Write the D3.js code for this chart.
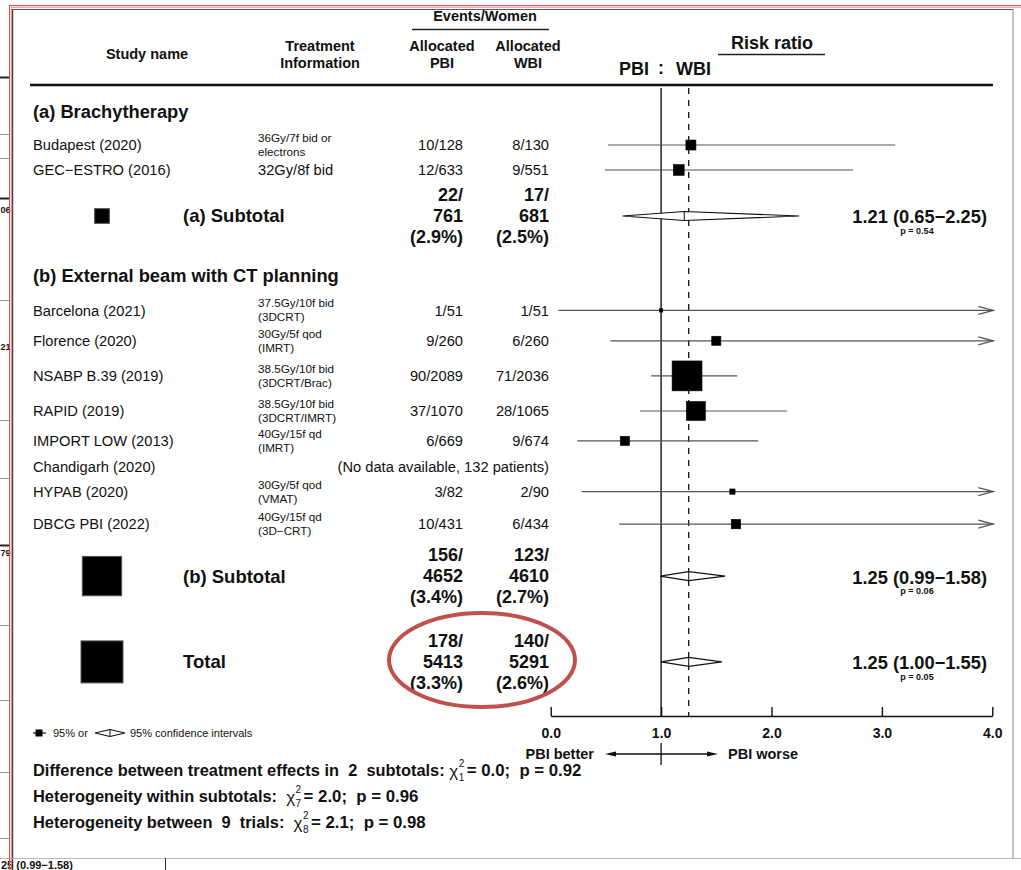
<!DOCTYPE html>
<html>
<head>
<meta charset="utf-8">
<script src="https://cdn.jsdelivr.net/npm/d3@7"></script>
<style>
  body { margin: 0; background: #fff; }
  svg { display: block; }
  text { font-family: "Liberation Sans", Arial, Helvetica, sans-serif; fill: #111; white-space: pre; }
</style>
</head>
<body>
<svg id="chart" width="1021" height="870"></svg>
<script>
// ---- Trial-level data ----
const studies = ["Budapest (2020)", "GEC\u2212ESTRO (2016)", "Barcelona (2021)", "Florence (2020)",
  "NSABP B.39 (2019)", "RAPID (2019)", "IMPORT LOW (2013)", "Chandigarh (2020)", "HYPAB (2020)", "DBCG PBI (2022)"];
const studyGroup = ["a", "a", "b", "b", "b", "b", "b", "b", "b", "b"];
const treatment = [["36Gy/7f bid or", "electrons"], ["32Gy/8f bid"], ["37.5Gy/10f bid", "(3DCRT)"],
  ["30Gy/5f qod", "(IMRT)"], ["38.5Gy/10f bid", "(3DCRT/Brac)"], ["38.5Gy/10f bid", "(3DCRT/IMRT)"],
  ["40Gy/15f qd", "(IMRT)"], [], ["30Gy/5f qod", "(VMAT)"], ["40Gy/15f qd", "(3D\u2212CRT)"]];
const pbiEvents = [10, 12, 1, 9, 90, 37, 6, null, 3, 10];
const pbiWomen = [128, 633, 51, 260, 2089, 1070, 669, null, 82, 431];
const wbiEvents = [8, 9, 1, 6, 71, 28, 9, null, 2, 6];
const wbiWomen = [130, 551, 51, 260, 2036, 1065, 674, null, 90, 434];
const riskRatio = [1.27, 1.16, 1.00, 1.50, 1.235, 1.315, 0.672, null, 1.646, 1.678];
const ciLow = [0.52, 0.49, 0.07, 0.54, 0.91, 0.81, 0.24, null, 0.28, 0.62];
const ciHigh = [3.12, 2.74, 15.4, 4.15, 1.69, 2.14, 1.88, null, 9.6, 4.58];
const noDataNote = "(No data available, 132 patients)";

// ---- Subtotals and total ----
const groupTitles = ["(a) Brachytherapy", "(b) External beam with CT planning"];
const summaryLabels = ["(a) Subtotal", "(b) Subtotal", "Total"];
const sumPbiEvents = [22, 156, 178];
const sumPbiWomen = [761, 4652, 5413];
const sumPbiPct = ["2.9%", "3.4%", "3.3%"];
const sumWbiEvents = [17, 123, 140];
const sumWbiWomen = [681, 4610, 5291];
const sumWbiPct = ["2.5%", "2.7%", "2.6%"];
const sumRR = [1.21, 1.25, 1.25];
const sumLow = [0.65, 0.99, 1.00];
const sumHigh = [2.25, 1.58, 1.55];
const sumP = ["0.54", "0.06", "0.05"];

// ---- Heterogeneity statistics ----
const statLabels = ["Difference between treatment effects in  2  subtotals: ",
  "Heterogeneity within subtotals:  ", "Heterogeneity between  9  trials:  "];
const statDf = ["1", "7", "8"];
const statChi = ["0.0", "2.0", "2.1"];
const statP = ["0.92", "0.96", "0.98"];

// ---- Axis ----
const axisTicks = [0, 1, 2, 3, 4];

// ---- Layout (row positions in line units) ----
const groupLine = [0, 6.3];
const studyLine = [1.27, 2.23, 7.63, 8.8, 10.15, 11.5, 12.65, 13.65, 14.6, 15.85];
const summaryLine = [4.0, 17.85, 21.15];

const svg = d3.select("#chart");
const x = d3.scaleLinear().domain([0, 4]).range([550.7, 992.3]);
const y = d3.scaleLinear().domain([0, 22]).range([112, 684]);
const boxSide = d3.scaleSqrt().domain([0, d3.max(sumPbiEvents.map((d, i) => d + sumWbiEvents[i]))]).range([0, 42]);

const colName = 33, colTreat = 258, colPbi = 463, colWbi = 549;
const axisY = 716, plotTop = 88;

// ---- Surrounding frame ----
const frame = svg.append("g");
frame.append("line").attr("x1", 12.5).attr("x2", 12.5).attr("y1", 9).attr("y2", 870).attr("stroke", "#444").attr("stroke-width", 1.5);
frame.append("line").attr("x1", 12).attr("x2", 1013).attr("y1", 9.5).attr("y2", 9.5).attr("stroke", "#555").attr("stroke-width", 1);
frame.append("line").attr("x1", 1013).attr("x2", 1013).attr("y1", 9).attr("y2", 858).attr("stroke", "#888").attr("stroke-width", 1);
frame.append("line").attr("x1", 0).attr("x2", 1021).attr("y1", 858.5).attr("y2", 858.5).attr("stroke", "#bbb").attr("stroke-width", 1);
frame.append("line").attr("x1", 165.5).attr("x2", 165.5).attr("y1", 858).attr("y2", 870).attr("stroke", "#333").attr("stroke-width", 1);
[[0, 10, 77, 2], [0, 10, 134, 1], [0, 10, 158, 1], [0, 10, 198, 2], [0, 10, 300, 1], [0, 10, 420, 1],
 [0, 10, 478, 1], [0, 10, 545, 2], [0, 10, 625, 1], [0, 10, 700, 1], [0, 10, 772, 1], [0, 10, 838, 1]]
  .forEach(([a, b, yy, w]) => frame.append("line").attr("x1", a).attr("x2", b).attr("y1", yy + 0.5).attr("y2", yy + 0.5)
    .attr("stroke", w > 1 ? "#222" : "#999").attr("stroke-width", w));
[["06", 210], ["21", 347], ["79", 553]].forEach(([t, yy]) =>
  frame.append("text").attr("x", 0.5).attr("y", yy).attr("dy", "0.35em")
    .attr("font-size", 9).attr("font-weight", "bold").text(t));
frame.append("text").attr("x", 1).attr("y", 868.5).attr("font-size", 11).attr("font-weight", "bold").text("25 (0.99\u22121.58)");
frame.append("line").attr("x1", 9.5).attr("x2", 9.5).attr("y1", 5).attr("y2", 870).attr("stroke", "#d9534f").attr("stroke-width", 1);
frame.append("line").attr("x1", 11.2).attr("x2", 11.2).attr("y1", 7).attr("y2", 870).attr("stroke", "#e08080").attr("stroke-width", 1);
frame.append("line").attr("x1", 9).attr("x2", 1021).attr("y1", 5.5).attr("y2", 5.5).attr("stroke", "#d9534f").attr("stroke-width", 1);
frame.append("line").attr("x1", 11).attr("x2", 1021).attr("y1", 7.2).attr("y2", 7.2).attr("stroke", "#e08080").attr("stroke-width", 1);

// ---- Column headers ----
const head = svg.append("g").attr("font-weight", "bold");
function hText(xx, yy, t, size, anchor) {
  return head.append("text").attr("x", xx).attr("y", yy).attr("dy", "0.35em")
    .attr("text-anchor", anchor || "middle").attr("font-size", size || 14.5).attr("font-weight", "bold").text(t);
}
hText(485, 16, "Events/Women");
head.append("line").attr("x1", 412).attr("x2", 549).attr("y1", 29.5).attr("y2", 29.5).attr("stroke", "#222").attr("stroke-width", 1.3);
hText(147, 54, "Study name");
hText(320, 46, "Treatment");
hText(320, 63, "Information");
hText(442, 46, "Allocated");
hText(442, 63, "PBI");
hText(528, 46, "Allocated");
hText(528, 63, "WBI");
hText(772, 43, "Risk ratio", 18);
head.append("line").attr("x1", 718).attr("x2", 825).attr("y1", 54.5).attr("y2", 54.5).attr("stroke", "#222").attr("stroke-width", 1.3);
hText(649, 69, "PBI", 18, "end");
hText(x(1), 68, ":", 18);
hText(676, 69, "WBI", 18, "start");
head.append("line").attr("x1", 30).attr("x2", 993).attr("y1", 85).attr("y2", 85).attr("stroke", "#111").attr("stroke-width", 2.6);

// ---- Reference lines ----
svg.append("line").attr("x1", x(1)).attr("x2", x(1)).attr("y1", plotTop).attr("y2", axisY)
  .attr("stroke", "#111").attr("stroke-width", 1.4);
svg.append("line").attr("x1", x(sumRR[2])).attr("x2", x(sumRR[2])).attr("y1", plotTop).attr("y2", axisY)
  .attr("stroke", "#111").attr("stroke-width", 1.3).attr("stroke-dasharray", "6,6");

// ---- Group titles ----
groupTitles.forEach((t, i) => {
  svg.append("text").attr("x", colName).attr("y", y(groupLine[i])).attr("dy", "0.35em")
    .attr("font-size", 18.3).attr("font-weight", "bold").text(t);
});

// ---- Trial rows ----
const rows = svg.append("g");
studies.forEach((name, i) => {
  const yy = y(studyLine[i]);
  rows.append("text").attr("x", colName).attr("y", yy).attr("dy", "0.35em").attr("font-size", 14.7).attr("fill", "#222").text(name);
  const tr = treatment[i];
  if (tr.length === 1) {
    rows.append("text").attr("x", colTreat).attr("y", yy).attr("dy", "0.35em").attr("font-size", 14.7).attr("fill", "#222").text(tr[0]);
  } else {
    tr.forEach((t, k) => rows.append("text").attr("x", colTreat).attr("y", yy + (k === 0 ? -7 : 7)).attr("dy", "0.35em")
      .attr("font-size", 11.7).attr("fill", "#333").text(t));
  }
  if (pbiEvents[i] == null) {
    rows.append("text").attr("x", colWbi).attr("y", yy).attr("dy", "0.35em").attr("text-anchor", "end")
      .attr("font-size", 14.7).attr("fill", "#222").text(noDataNote);
    return;
  }
  rows.append("text").attr("x", colPbi).attr("y", yy).attr("dy", "0.35em").attr("text-anchor", "end")
    .attr("font-size", 14.7).attr("fill", "#222").text(pbiEvents[i] + "/" + pbiWomen[i]);
  rows.append("text").attr("x", colWbi).attr("y", yy).attr("dy", "0.35em").attr("text-anchor", "end")
    .attr("font-size", 14.7).attr("fill", "#222").text(wbiEvents[i] + "/" + wbiWomen[i]);

  // confidence interval
  const clipped = ciHigh[i] > x.domain()[1];
  const xr = clipped ? x(x.domain()[1]) + 1 : x(ciHigh[i]);
  rows.append("line").attr("x1", x(Math.max(ciLow[i], 0))).attr("x2", xr).attr("y1", yy).attr("y2", yy)
    .attr("stroke", "#555").attr("stroke-width", 1.2);
  if (clipped) {
    rows.append("path").attr("d", `M${xr - 15},${yy - 4}L${xr},${yy}L${xr - 15},${yy + 4}`)
      .attr("fill", "none").attr("stroke", "#555").attr("stroke-width", 1.2);
  }
  // box sized by number of events
  const s = boxSide(pbiEvents[i] + wbiEvents[i]);
  rows.append("rect").attr("x", x(riskRatio[i]) - s / 2).attr("y", yy - s / 2).attr("width", s).attr("height", s)
    .attr("fill", "#000").attr("stroke", "#000").attr("stroke-width", 0.6);
});

// ---- Subtotals and total ----
const sums = svg.append("g");
summaryLabels.forEach((lab, i) => {
  const yy = y(summaryLine[i]);
  const s = boxSide(sumPbiEvents[i] + sumWbiEvents[i]);
  sums.append("rect").attr("x", 102 - s / 2).attr("y", yy - s / 2).attr("width", s).attr("height", s)
    .attr("fill", "#000").attr("stroke", "#555").attr("stroke-width", 1);
  sums.append("text").attr("x", 183).attr("y", yy).attr("dy", "0.35em").attr("font-size", 18.5).attr("font-weight", "bold").text(lab);
  const pb = [sumPbiEvents[i] + "/", String(sumPbiWomen[i]), "(" + sumPbiPct[i] + ")"];
  const wb = [sumWbiEvents[i] + "/", String(sumWbiWomen[i]), "(" + sumWbiPct[i] + ")"];
  [-21, 0, 21].forEach((off, k) => {
    sums.append("text").attr("x", colPbi).attr("y", yy + off).attr("dy", "0.35em").attr("text-anchor", "end")
      .attr("font-size", 18).attr("font-weight", "bold").text(pb[k]);
    sums.append("text").attr("x", colWbi).attr("y", yy + off).attr("dy", "0.35em").attr("text-anchor", "end")
      .attr("font-size", 18).attr("font-weight", "bold").text(wb[k]);
  });
  const h = 4.5;
  sums.append("path").attr("d", `M${x(sumLow[i])},${yy}L${x(sumRR[i])},${yy - h}L${x(sumHigh[i])},${yy}L${x(sumRR[i])},${yy + h}Z`)
    .attr("fill", "#fff").attr("stroke", "#111").attr("stroke-width", 1.1);
  sums.append("line").attr("x1", x(sumRR[i])).attr("x2", x(sumRR[i])).attr("y1", yy - h).attr("y2", yy + h)
    .attr("stroke", "#111").attr("stroke-width", 1);
  const f = d3.format(".2f");
  sums.append("text").attr("x", 987).attr("y", yy + 1).attr("dy", "0.35em").attr("text-anchor", "end")
    .attr("font-size", 18.3).attr("font-weight", "bold")
    .text(`${f(sumRR[i])} (${f(sumLow[i])}\u2212${f(sumHigh[i])})`);
  sums.append("text").attr("x", 917).attr("y", yy + 15).attr("dy", "0.35em").attr("text-anchor", "middle")
    .attr("font-size", 9).attr("font-weight", "bold").text("p = " + sumP[i]);
});

// ---- Axis ----
const axis = d3.axisBottom(x).tickValues(axisTicks).tickFormat(d3.format(".1f"))
  .tickSizeInner(-9).tickSizeOuter(0).tickPadding(12);
const ag = svg.append("g").attr("transform", `translate(0,${axisY})`).call(axis);
ag.select(".domain").attr("stroke", "#111").attr("stroke-width", 1.4);
ag.selectAll(".tick line").attr("stroke", "#111").attr("stroke-width", 1.4);
ag.selectAll(".tick text").attr("font-size", 14).attr("font-weight", "bold").attr("fill", "#111")
  .attr("font-family", "Liberation Sans, Arial, sans-serif");

// direction labels under the axis
const dirY = 754;
svg.append("line").attr("x1", 612).attr("x2", 711).attr("y1", dirY).attr("y2", dirY).attr("stroke", "#111").attr("stroke-width", 1.3);
svg.append("path").attr("d", `M605,${dirY}L616,${dirY - 2.5}L616,${dirY + 2.5}Z`).attr("fill", "#111");
svg.append("path").attr("d", `M718,${dirY}L707,${dirY - 2.5}L707,${dirY + 2.5}Z`).attr("fill", "#111");
svg.append("line").attr("x1", x(1)).attr("x2", x(1)).attr("y1", 743).attr("y2", 765).attr("stroke", "#111").attr("stroke-width", 1.3);
svg.append("text").attr("x", 594).attr("y", dirY).attr("dy", "0.35em").attr("text-anchor", "end")
  .attr("font-size", 14.5).attr("font-weight", "bold").text("PBI better");
svg.append("text").attr("x", 728).attr("y", dirY).attr("dy", "0.35em")
  .attr("font-size", 14.5).attr("font-weight", "bold").text("PBI worse");

// ---- Legend ----
const lg = svg.append("g");
const ly = 733;
lg.append("line").attr("x1", 33).attr("x2", 46).attr("y1", ly).attr("y2", ly).attr("stroke", "#111").attr("stroke-width", 1.2);
lg.append("rect").attr("x", 35.5).attr("y", ly - 3.5).attr("width", 7).attr("height", 7).attr("fill", "#000");
lg.append("text").attr("x", 53).attr("y", ly).attr("dy", "0.35em").attr("font-size", 11).attr("fill", "#333").text("95% or");
lg.append("path").attr("d", `M95,${ly}L110,${ly - 3.5}L125,${ly}L110,${ly + 3.5}Z`).attr("fill", "#fff").attr("stroke", "#111").attr("stroke-width", 1.2);
lg.append("line").attr("x1", 110).attr("x2", 110).attr("y1", ly - 3.5).attr("y2", ly + 3.5).attr("stroke", "#111");
lg.append("text").attr("x", 130).attr("y", ly).attr("dy", "0.35em").attr("font-size", 11).attr("fill", "#333").text("95% confidence intervals");

// ---- Heterogeneity statistics ----
const stats = svg.append("g");
[770, 796, 822].forEach((yy, i) => {
  let cx = 33;
  const seg = (t, size, weight, fill) => {
    const n = stats.append("text").attr("x", cx).attr("y", yy).attr("dy", "0.35em").attr("font-size", size)
      .attr("font-weight", weight).attr("fill", fill).text(t);
    cx += n.node().getComputedTextLength();
  };
  seg(statLabels[i], 16.4, "bold", "#111");
  const chi = stats.append("text").attr("x", cx).attr("y", yy + 1).attr("dy", "0.35em").attr("font-size", 17)
    .attr("fill", "#444").text("\u03c7");
  const cw = chi.node().getComputedTextLength();
  stats.append("text").attr("x", cx + cw + 0.5).attr("y", yy - 3).attr("font-size", 10).attr("fill", "#333").text("2");
  stats.append("text").attr("x", cx + cw + 0.5).attr("y", yy + 11).attr("font-size", 10).attr("fill", "#333").text(statDf[i]);
  cx += cw + 8.5;
  seg("= " + statChi[i] + ";  p = " + statP[i], 16.8, "bold", "#111");
});

// ---- Highlight around the overall event counts ----
svg.append("ellipse").attr("cx", 482).attr("cy", 660).attr("rx", 93).attr("ry", 47)
  .attr("fill", "none").attr("stroke", "#c0504d").attr("stroke-width", 4);
</script>
</body>
</html>
